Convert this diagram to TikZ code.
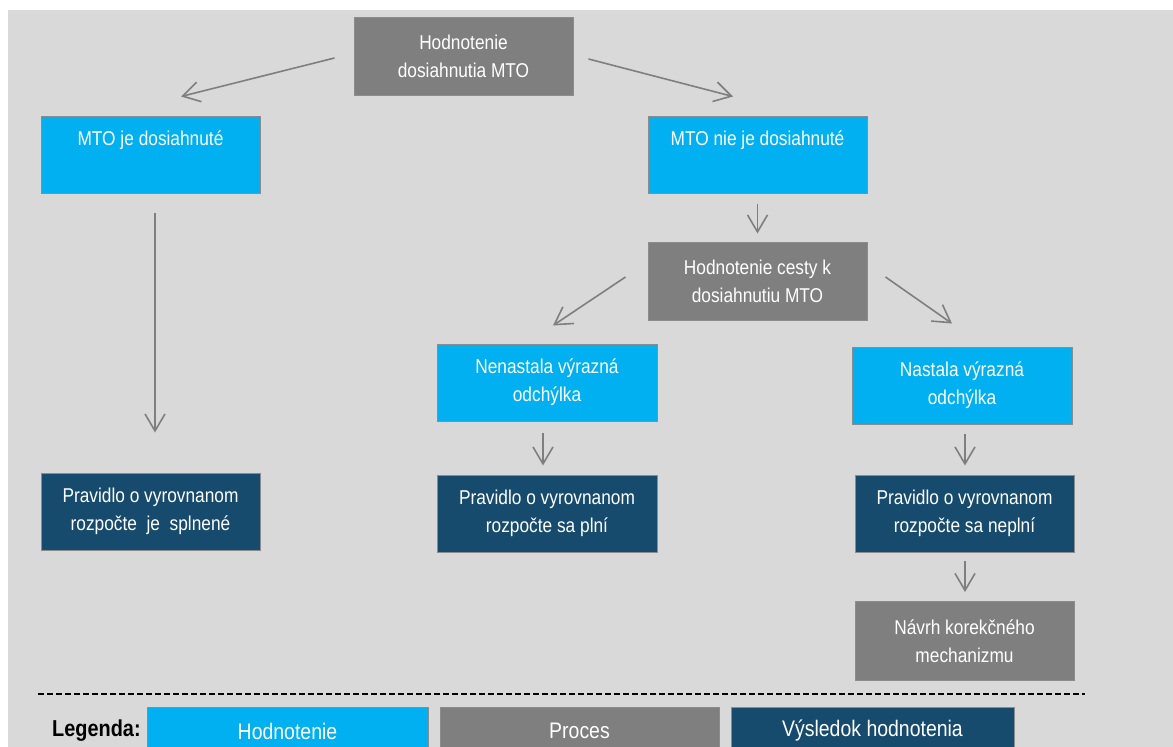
\documentclass[tikz,border=0pt]{standalone}
\usepackage{fontspec}
\setmainfont[FakeStretch=0.865]{Liberation Sans}
\usetikzlibrary{arrows.meta,calc}
\definecolor{bg}{HTML}{D9D9D9}
\definecolor{cblue}{HTML}{00B0F0}
\definecolor{cgray}{HTML}{7F7F7F}
\definecolor{cdark}{HTML}{164B6E}
\definecolor{bordergray}{HTML}{8C8C8C}
\definecolor{agray}{HTML}{7F7F7F}
\begin{document}
\begin{tikzpicture}[x=1pt,y=-1pt,
  box/.style={draw=bordergray, line width=1pt, minimum width=219pt, minimum height=77pt,
    inner sep=0pt, text=white, align=center, font=\fontsize{20}{28}\selectfont},
  evalbox/.style={box, fill=cblue},
  procbox/.style={box, fill=cgray},
  resbox/.style={box, fill=cdark},
  legbox/.style={box, minimum height=48pt, font=\fontsize{22.5}{28}\selectfont},
  arr/.style={draw=agray, line width=1.6pt, -{Straight Barb[length=17pt,width=20pt]}}]
\useasboundingbox (0,0) rectangle (1173,747);
\fill[white] (0,0) rectangle (1173,747);
\fill[bg] (8,10) rectangle (1173,747);

% nodes
\node[procbox, minimum height=78pt] (top) at (463.5,56) {Hodnotenie\\dosiahnutia MTO};
\node[evalbox] (mto1) at (150.5,154.5) {MTO je dosiahnuté\\[5pt] ~};
\node[evalbox] (mto2) at (757.5,154.5) {MTO nie je dosiahnuté\\[5pt] ~};
\node[procbox, minimum height=78pt] (cesta) at (757.5,281) {Hodnotenie cesty k\\dosiahnutiu MTO};
\node[evalbox, minimum width=220pt] (nen) at (547,382.5) {Nenastala výrazná\\odchýlka};
\node[evalbox, minimum width=220pt] (nas) at (962,385.5) {Nastala výrazná\\odchýlka};
\node[resbox] (prav1) at (150.5,511.5) {Pravidlo o vyrovnanom\\rozpočte\ \ je\ \ splnené};
\node[resbox, minimum width=220pt] (prav2) at (547,513.5) {Pravidlo o vyrovnanom\\rozpočte sa plní};
\node[resbox] (prav3) at (964.5,513.5) {Pravidlo o vyrovnanom\\rozpočte sa neplní};
\node[procbox, minimum height=79pt] (navrh) at (964.5,641) {Návrh korekčného\\mechanizmu};

% connectors
\draw[arr] ($(top.west)+(-19,2)$) -- ($(mto1.north)+(30.5,-19)$);
\draw[arr] ($(top.east)+(15,3)$) -- ($(mto2.north)+(-24.5,-19)$);
\draw[arr] ($(mto1.south)+(4.5,19)$) -- ($(prav1.north)+(4.5,-40)$);
\draw[arr] ($(mto2.south)+(0,10)$) -- ($(cesta.north)+(0,-8)$);
\draw[arr] ($(cesta.west)+(-22,-4)$) -- ($(nen.north)+(6,-18)$);
\draw[arr] ($(cesta.east)+(18,-4)$) -- ($(nas.north)+(-10,-23)$);
\draw[arr] ($(nen.south)+(-4,11)$) -- ($(prav2.north)+(-4,-9)$);
\draw[arr] ($(nas.south)+(3,9)$) -- ($(prav3.north)+(0.5,-9)$);
\draw[arr] ($(prav3.south)+(0.5,8)$) -- ($(navrh.north)+(0.5,-9)$);

% separator
\draw[black, line width=1.5pt, dash pattern=on 6pt off 3pt] (38,694) -- (1085,694);

% legend
\node[font=\fontsize{23}{27}\selectfont\bfseries, anchor=west, inner sep=0pt] (leg) at (52,731) {Legenda:};
\begin{scope}
\clip (0,0) rectangle (1173,747);
\node[legbox, fill=cblue, minimum width=281pt] (l1) at (287.5,731) {Hodnotenie};
\node[legbox, fill=cgray, minimum width=279pt] (l2) at (579.5,731) {Proces};
\node[legbox, fill=cdark, minimum width=283pt] (l3) at (872.5,731) {Výsledok hodnotenia};
\end{scope}
\end{tikzpicture}
\end{document}
